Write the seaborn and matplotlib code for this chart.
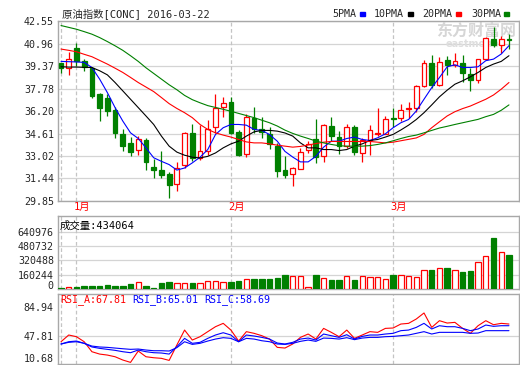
import numpy as np
import matplotlib
matplotlib.use('Agg')
import matplotlib.pyplot as plt
import matplotlib.transforms as mtransforms
from matplotlib.patches import Rectangle
import seaborn as sns

##### Data (59 sessions, 2015-12-30 .. 2016-03-22)

opens = [39.60, 39.24, 40.65, 39.75, 39.25, 37.43, 37.10, 36.25, 34.60, 33.95,
         33.42, 34.15, 32.25, 32.05, 31.75, 31.08, 32.40, 34.65, 32.88, 33.40,
         35.07, 36.48, 36.84, 34.73, 33.20, 35.73, 34.95, 34.60, 33.72, 32.06,
         31.78, 32.13, 33.44, 34.24, 33.00, 35.14, 34.36, 33.72, 35.07, 33.25,
         34.12, 34.60, 34.61, 35.70, 35.73, 36.35, 36.39, 37.94, 39.60, 38.06,
         39.77, 39.44, 39.60, 38.83, 38.38, 39.84, 41.31, 40.86, 41.28]
highs = [39.62, 40.37, 41.03, 39.90, 39.30, 37.50, 37.40, 36.45, 34.90, 34.40,
         34.45, 34.30, 32.80, 33.35, 31.90, 32.60, 34.75, 35.25, 35.20, 35.60,
         37.43, 37.22, 37.20, 34.85, 35.96, 36.48, 35.80, 35.10, 33.95, 33.00,
         32.25, 33.60, 34.05, 35.66, 35.30, 35.80, 34.78, 35.25, 35.20, 34.30,
         35.20, 36.44, 35.85, 36.44, 36.72, 36.84, 38.00, 39.77, 40.12, 40.02,
         40.07, 40.26, 40.12, 39.25, 39.88, 41.40, 42.14, 41.50, 41.60]
lows = [38.87, 38.76, 39.37, 39.05, 37.15, 35.52, 35.85, 34.30, 33.40, 33.05,
        33.10, 32.05, 31.50, 31.50, 30.05, 30.55, 32.15, 32.70, 32.75, 33.10,
        34.65, 35.75, 34.60, 33.00, 32.94, 34.66, 34.26, 33.55, 31.52, 31.45,
        30.90, 32.10, 33.25, 32.50, 32.60, 34.07, 33.17, 33.60, 33.13, 32.58,
        33.13, 34.43, 34.55, 35.10, 35.50, 35.73, 36.15, 37.90, 37.83, 37.94,
        38.73, 39.30, 38.23, 37.60, 38.20, 39.80, 40.72, 40.26, 40.55]
closes = [39.20, 39.85, 39.70, 39.30, 37.27, 36.40, 36.20, 34.62, 33.75, 33.33,
          34.20, 32.62, 32.05, 31.68, 30.95, 32.20, 34.65, 32.88, 33.35, 34.95,
          36.39, 36.74, 34.66, 33.13, 35.77, 34.95, 34.70, 33.84, 32.00, 31.71,
          32.18, 33.29, 33.84, 32.96, 35.21, 34.43, 33.72, 35.07, 33.30, 34.17,
          34.83, 34.65, 35.66, 35.65, 36.25, 36.40, 37.97, 39.60, 38.06, 39.67,
          39.44, 39.72, 38.85, 38.38, 39.84, 41.33, 40.86, 41.26, 41.20]

ma5 = [39.70, 39.68, 39.66, 39.63, 39.27, 38.45, 37.50, 36.44, 35.49, 34.66,
       34.26, 33.60, 32.90, 32.65, 32.42, 32.03, 32.18, 32.54, 32.94, 33.48,
       34.54, 35.02, 35.25, 35.25, 35.20, 34.90, 34.83, 34.54, 34.07, 33.35,
       32.95, 32.61, 32.61, 33.00, 33.65, 34.07, 34.07, 34.26, 34.36, 34.19,
       34.12, 34.31, 34.59, 35.02, 35.37, 35.60, 36.20, 37.03, 37.85, 38.56,
       39.32, 39.46, 39.27, 39.27, 39.32, 39.75, 39.86, 40.22, 40.81]
ma10 = [39.32, 39.30, 39.30, 39.28, 39.27, 39.04, 38.75, 38.21, 37.62, 37.03,
        36.44, 35.85, 35.25, 34.43, 33.72, 33.30, 33.08, 32.94, 32.89, 33.00,
        33.24, 33.60, 33.88, 34.07, 34.43, 34.73, 34.83, 34.83, 34.78, 34.65,
        34.43, 33.95, 33.60, 33.60, 33.48, 33.48, 33.41, 33.48, 33.72, 33.88,
        34.12, 34.19, 34.36, 34.55, 34.86, 35.20, 35.60, 36.08, 36.63, 37.20,
        37.67, 38.09, 38.33, 38.61, 38.92, 39.27, 39.51, 39.70, 40.10]
ma20 = [40.57, 40.48, 40.38, 40.20, 40.03, 39.77, 39.51, 39.22, 38.92, 38.57,
        38.21, 37.89, 37.57, 37.15, 36.72, 36.38, 36.08, 35.73, 35.25, 34.90,
        34.66, 34.50, 34.36, 34.19, 34.02, 33.95, 33.95, 33.88, 33.79, 33.72,
        33.65, 33.70, 33.80, 33.90, 34.00, 34.05, 34.05, 34.05, 34.05, 34.05,
        34.05, 34.00, 33.95, 34.00, 34.10, 34.20, 34.30, 34.55, 35.02, 35.44,
        35.85, 36.15, 36.37, 36.55, 36.79, 37.03, 37.33, 37.74, 38.21]
ma30 = [42.23, 42.10, 41.97, 41.80, 41.62, 41.38, 41.10, 40.80, 40.48, 40.10,
        39.70, 39.25, 38.85, 38.45, 38.05, 37.70, 37.30, 37.00, 36.78, 36.58,
        36.45, 36.32, 36.18, 36.03, 35.88, 35.73, 35.55, 35.37, 35.14, 34.85,
        34.62, 34.43, 34.26, 34.08, 33.95, 33.84, 33.75, 33.72, 33.72, 33.72,
        33.76, 33.84, 33.95, 34.10, 34.26, 34.40, 34.50, 34.66, 34.83, 35.00,
        35.12, 35.25, 35.37, 35.49, 35.61, 35.80, 35.96, 36.25, 36.63]

volume = [15000, 26000, 26000, 37000, 37000, 37000, 48000, 37000, 37000, 60000,
          78000, 37000, 15000, 71000, 82000, 67000, 67000, 71000, 67000, 89000,
          89000, 78000, 78000, 89000, 112000, 116000, 116000, 116000, 127000, 160000,
          145000, 145000, 26000, 160000, 123000, 104000, 104000, 145000, 104000, 145000,
          138000, 138000, 112000, 160000, 153000, 145000, 138000, 213000, 216000, 235000,
          239000, 213000, 194000, 205000, 302000, 373000, 574000, 414000, 384000]

rsi_a = [39.9, 48.7, 46.5, 39.9, 26.8, 23.7, 22.4, 20.2, 15.9, 12.8,
         27.7, 20.2, 18.9, 18.1, 15.4, 35.6, 55.2, 42.1, 46.5, 53.1,
         59.6, 64.0, 55.2, 40.8, 53.1, 50.9, 47.8, 43.4, 32.5, 31.6,
         36.9, 45.6, 50.0, 43.4, 57.4, 52.2, 46.5, 55.2, 44.3, 48.7,
         53.1, 52.2, 57.4, 57.9, 63.1, 64.0, 69.7, 77.6, 58.7, 67.5,
         64.4, 65.3, 57.4, 50.9, 60.9, 67.5, 62.2, 64.0, 63.1]
rsi_b = [36.9, 39.9, 40.8, 37.8, 33.0, 31.2, 29.9, 28.6, 26.8, 25.5,
         29.0, 26.8, 25.5, 25.1, 23.7, 33.4, 44.3, 37.8, 39.1, 44.3,
         48.7, 51.7, 48.7, 39.9, 48.7, 47.4, 45.6, 43.4, 38.2, 36.9,
         39.1, 43.4, 44.7, 42.1, 50.0, 47.8, 45.6, 49.1, 43.4, 46.9,
         48.7, 48.7, 50.0, 50.9, 54.4, 55.2, 58.7, 64.0, 56.6, 60.9,
         59.6, 59.6, 57.4, 54.4, 56.6, 61.8, 60.1, 60.9, 60.9]
rsi_c = [36.9, 39.1, 39.9, 37.8, 34.2, 33.0, 32.5, 31.6, 30.7, 29.9,
         30.3, 29.0, 28.1, 28.1, 27.7, 32.1, 39.9, 36.4, 37.8, 40.8,
         43.4, 45.2, 44.3, 39.9, 44.3, 43.4, 41.2, 39.9, 36.9, 36.4,
         37.8, 40.4, 42.1, 40.4, 44.7, 44.3, 43.4, 45.2, 42.6, 44.7,
         45.6, 45.6, 46.5, 46.9, 47.8, 48.7, 50.9, 53.1, 50.0, 52.2,
         52.2, 52.2, 52.2, 50.9, 51.3, 54.4, 54.4, 54.4, 54.4]

month_labels = ['1月', '2月', '3月']
month_idx = [2, 22, 43]
price_ticks = [29.85, 31.44, 33.02, 34.61, 36.20, 37.78, 39.37, 40.96, 42.55]
vol_ticks = [0, 160244, 320488, 480732, 640976]
rsi_ticks = [10.68, 47.81, 84.94]

title = '原油指数[CONC] 2016-03-22'
vol_title = '成交量:434064'


##### Style

sns.set_style('white')
plt.rcParams['font.family'] = ['DejaVu Sans Mono', 'Noto Sans CJK SC']
RED = '#ff0000'
GREEN = '#008000'
BLUE = '#0000ff'
GRID = '#d4d4d4'
EDGE = '#a8a8a8'

W, H = 520, 365
fig = plt.figure(figsize=(W / 100, H / 100), dpi=100)
fig.patch.set_facecolor('white')


def box(x0, y0, x1, y1):
    return [x0 / W, 1 - y1 / H, (x1 - x0) / W, (y1 - y0) / H]


ax_k = fig.add_axes(box(58, 21, 519, 201))
ax_v = fig.add_axes(box(58, 216, 519, 289))
ax_r = fig.add_axes(box(58, 294, 519, 364))

idx = np.arange(len(closes))
o = np.array(opens)
c = np.array(closes)
up = c >= o

for ax in (ax_k, ax_v, ax_r):
    ax.set_xlim(-0.39, 59.3)
    ax.set_xticks([])
    for s in ax.spines.values():
        s.set_color(EDGE)
        s.set_linewidth(1)
    ax.tick_params(axis='y', length=0, pad=3, labelsize=7.2)
    for m in [0] + month_idx:
        ax.axvline(m, color='#c4c4c4', lw=0.9, ls=(0, (3, 2)), zorder=1)


##### Candles + moving averages

ax_k.set_ylim(29.85, 42.55)
ax_k.set_yticks(price_ticks)
ax_k.set_yticklabels([f'{t:.2f}' for t in price_ticks])
for t in price_ticks:
    ax_k.axhline(t, color=GRID, lw=0.9, zorder=0)

wick_col = [RED if u else GREEN for u in up]
ax_k.vlines(idx, lows, highs, colors=wick_col, lw=0.9, zorder=2)
body_h = np.maximum(np.abs(c - o), 0.03)
ax_k.bar(idx, body_h, bottom=np.minimum(o, c), width=0.62,
         color=['white' if u else GREEN for u in up],
         edgecolor=wick_col, linewidth=0.9, zorder=3)

for vals, col in [(ma5, BLUE), (ma10, 'black'), (ma20, RED), (ma30, GREEN)]:
    sns.lineplot(x=idx, y=vals, ax=ax_k, color=col, linewidth=0.8, zorder=4)
ax_k.set_ylabel('')

# watermark
ax_k.text((476 - 58) / 461, 1 - (31 - 21) / 180, '东方财富网', transform=ax_k.transAxes,
          ha='center', va='center', fontsize=11.5, fontweight='bold',
          family=['Noto Sans CJK SC'], color='#d6d6d6', zorder=0)
ax_k.text((476 - 58) / 461, 1 - (44 - 21) / 180, 'eastmoney', transform=ax_k.transAxes,
          ha='center', va='center', fontsize=7, fontweight='bold',
          family=['DejaVu Sans'], color='#dedede', zorder=0)

# month labels
trans = mtransforms.blended_transform_factory(ax_k.transData, ax_k.transAxes)
for m, lab in zip(month_idx, month_labels):
    ax_k.text(m - 0.3, 1 - (207 - 21) / 180, lab, transform=trans, ha='left',
              va='center', fontsize=7.5, color=RED)


##### Volume

ax_v.set_ylim(0, 815000)
ax_v.set_yticks(vol_ticks)
ax_v.set_yticklabels([str(t) for t in vol_ticks])
for t in vol_ticks[1:]:
    ax_v.axhline(t, color=GRID, lw=0.9, zorder=0)
ax_v.bar(idx, volume, width=0.7,
         color=['white' if u else GREEN for u in up],
         edgecolor=wick_col, linewidth=0.9, zorder=3)
ax_v.get_yticklabels()[0].set_va('baseline')
ax_v.text(0.004, 1 - (226 - 216) / 73, vol_title, transform=ax_v.transAxes,
          ha='left', va='center', fontsize=7.5, color='black')


##### RSI

ax_r.set_ylim(10.68, 102.5)
ax_r.set_yticks(rsi_ticks)
ax_r.set_yticklabels([f'{t:.2f}' for t in rsi_ticks])
ax_r.axhline(47.81, color=GRID, lw=0.9, zorder=0)
sns.lineplot(x=idx, y=rsi_a, ax=ax_r, color=RED, linewidth=0.8, zorder=4)
sns.lineplot(x=idx, y=rsi_b, ax=ax_r, color=BLUE, linewidth=0.8, zorder=4)
sns.lineplot(x=idx, y=rsi_c, ax=ax_r, color=BLUE, linewidth=0.8, zorder=4)
ax_r.set_ylabel('')
ax_r.get_yticklabels()[0].set_va('bottom')
for px, txt, col in [(60, 'RSI_A:67.81', RED), (132, 'RSI_B:65.01', BLUE),
                     (204, 'RSI_C:58.69', BLUE)]:
    ax_r.text((px - 58) / 461, 1 - (300 - 294) / 70, txt, transform=ax_r.transAxes,
              ha='left', va='center', fontsize=7.2, color=col)


##### Title and MA legend

fig.text(62 / W, 1 - 14 / H, title, ha='left', va='center', fontsize=7.5)
for px, txt, sq, col in [(332, '5PMA', 360, BLUE), (374, '10PMA', 408, 'black'),
                         (422, '20PMA', 456, RED), (471, '30PMA', 504, GREEN)]:
    fig.text(px / W, 1 - 14 / H, txt, ha='left', va='center', fontsize=7.2)
    fig.add_artist(Rectangle((sq / W, 1 - 16 / H), 4.5 / W, 3.5 / H,
                             transform=fig.transFigure, color=col))

fig.savefig('out.png', dpi=100, facecolor='white')
